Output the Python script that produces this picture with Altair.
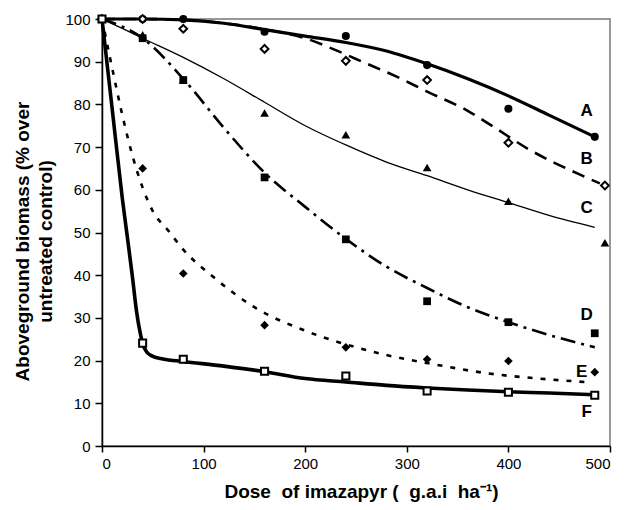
import altair as alt
import pandas as pd

FONT = "Liberation Sans"

# ---- observed data (markers) ----
doses = [0, 40, 80, 160, 240, 320, 400, 485]
doses_bc = [0, 40, 80, 160, 240, 320, 400, 495]
a_vals = [100, 100, 100, 97, 96, 89.2, 79, 72.4]
b_vals = [100, 100, 97.7, 93, 90.2, 85.7, 71, 61]
c_vals = [100, 96.3, 85.7, 78, 72.9, 65.2, 57.3, 47.6]
d_vals = [100, 95.5, 85.7, 62.9, 48.4, 33.9, 29, 26.4]
e_vals = [100, 65, 40.4, 28.3, 23.1, 20.3, 19.9, 17.3]
f_vals = [100, 24.1, 20.3, 17.5, 16.4, 12.9, 12.6, 11.9]

# ---- fitted curves ----
a_cx = [0, 40, 80, 120, 160, 200, 240, 280, 320, 360, 400, 440, 485]
a_cy = [100, 100, 99.8, 99, 97.5, 96, 94.5, 92.5, 89.5, 86, 82, 77.5, 72.4]
b_cx = [0, 40, 80, 120, 160, 200, 230, 260, 290, 320, 360, 385, 420, 470, 490]
b_cy = [100, 100, 99.8, 99, 97.6, 95.5, 92.7, 89.6, 86.5, 83, 78.5, 74.8, 69.5, 63.6, 61.5]
c_cx = [0, 20, 40, 80, 120, 160, 200, 240, 280, 320, 360, 400, 440, 485]
c_cy = [100, 97.8, 95.5, 91, 86, 80.5, 75, 70.5, 66.5, 63.3, 60, 57, 54, 51.2]
d_cx = [0, 40, 80, 120, 160, 200, 240, 280, 320, 360, 400, 440, 485]
d_cy = [100, 95.5, 86, 74.5, 64, 56, 48.5, 42, 37, 32.5, 29, 26, 23.1]
e_cx = [0, 10, 20, 30, 40, 50, 65, 80, 110, 150, 200, 240, 280, 330, 380, 430, 475]
e_cy = [100, 88.5, 77.5, 68, 60.5, 55, 50.5, 46, 39.5, 32.5, 27, 23.8, 21.3, 19, 17, 15.8, 15]
f_cx = [0, 10, 20, 26, 30, 34, 38, 40, 44, 50, 60, 80, 120, 160, 200, 240, 280, 320, 360, 400, 440, 485]
f_cy = [100, 79, 58, 47, 39.5, 31.5, 26, 24, 22, 21, 20.4, 19.8, 18.7, 17.4, 15.8, 15, 14.2, 13.6, 13.1, 12.7, 12.4, 12]

# ---- curve labels ----
label_names = ["A", "B", "C", "D", "E", "F"]
label_x = [477, 477, 477, 477, 472, 477]
label_y = [78.5, 67.3, 55.8, 30.6, 17.3, 7.9]

xs = alt.Scale(domain=[0, 500], nice=False)
ys = alt.Scale(domain=[0, 100], nice=False)

NB = "\u00a0"
x_title = f"Dose{NB} of imazapyr ({NB} g.a.i{NB} ha\u207b\u00b9)"

x_axis = alt.Axis(values=[0, 100, 200, 300, 400, 500], title=x_title,
                  labelPadding=4, titlePadding=11, tickSize=6, titleX=259)
y_axis = alt.Axis(values=list(range(0, 101, 10)), title=["Aboveground biomass (% over", "untreated control)"],
                  labelPadding=5, titlePadding=9, tickSize=7, titleLineHeight=23, titleY=222)


def curve(cx, cy, width, dash=None):
    df = pd.DataFrame({"x": cx, "y": cy})
    kw = dict(color="black", strokeWidth=width, interpolate="monotone")
    if dash:
        kw["strokeDash"] = dash
    return alt.Chart(df).mark_line(**kw).encode(
        x=alt.X("x:Q", scale=xs, axis=x_axis),
        y=alt.Y("y:Q", scale=ys, axis=y_axis),
    )


def points(dx, vals, shape, filled, size):
    df = pd.DataFrame({"x": dx, "y": vals})
    if filled:
        m = alt.Chart(df).mark_point(shape=shape, filled=True, color="black", size=size, opacity=1)
    else:
        m = alt.Chart(df).mark_point(shape=shape, filled=True, fill="white", stroke="black",
                                     strokeWidth=2, size=size, opacity=1)
    return m.encode(x=alt.X("x:Q", scale=xs), y=alt.Y("y:Q", scale=ys))


lines = [
    curve(a_cx, a_cy, 3.2),
    curve(b_cx, b_cy, 2.6, [13, 8]),
    curve(c_cx, c_cy, 1.3),
    curve(d_cx, d_cy, 2.6, [15, 6, 3, 6]),
    curve(e_cx, e_cy, 2.6, [5, 8]),
    curve(f_cx, f_cy, 3.6),
]

marks = [
    points(doses, a_vals, "circle", True, 65),
    points(doses_bc, b_vals, "diamond", False, 60),
    points(doses_bc, c_vals, "triangle-up", True, 75),
    points(doses, d_vals, "square", True, 60),
    points(doses, e_vals, "diamond", True, 75),
    points(doses, f_vals, "square", False, 50),
]

lab_df = pd.DataFrame({"x": label_x, "y": label_y, "t": label_names})
labels = alt.Chart(lab_df).mark_text(font=FONT, fontSize=17, fontWeight="bold", color="black").encode(
    x=alt.X("x:Q", scale=xs), y=alt.Y("y:Q", scale=ys), text="t:N")

chart = alt.layer(*lines, *marks, labels).properties(
    width=508, height=427,
    autosize=alt.AutoSizeParams(type="none"),
    padding={"left": 94, "top": 11, "right": 10, "bottom": 56},
).configure_view(stroke="#777777", strokeWidth=1.5).configure_axis(
    grid=False, labelFont=FONT, labelFontSize=15, labelColor="black",
    titleFont=FONT, titleFontSize=19, titleFontWeight="bold", titleColor="black",
    domainColor="black", domainWidth=1.5, tickColor="black", tickWidth=1.5,
)

chart.save("out.html", embed_options={"renderer": "svg", "actions": False})
